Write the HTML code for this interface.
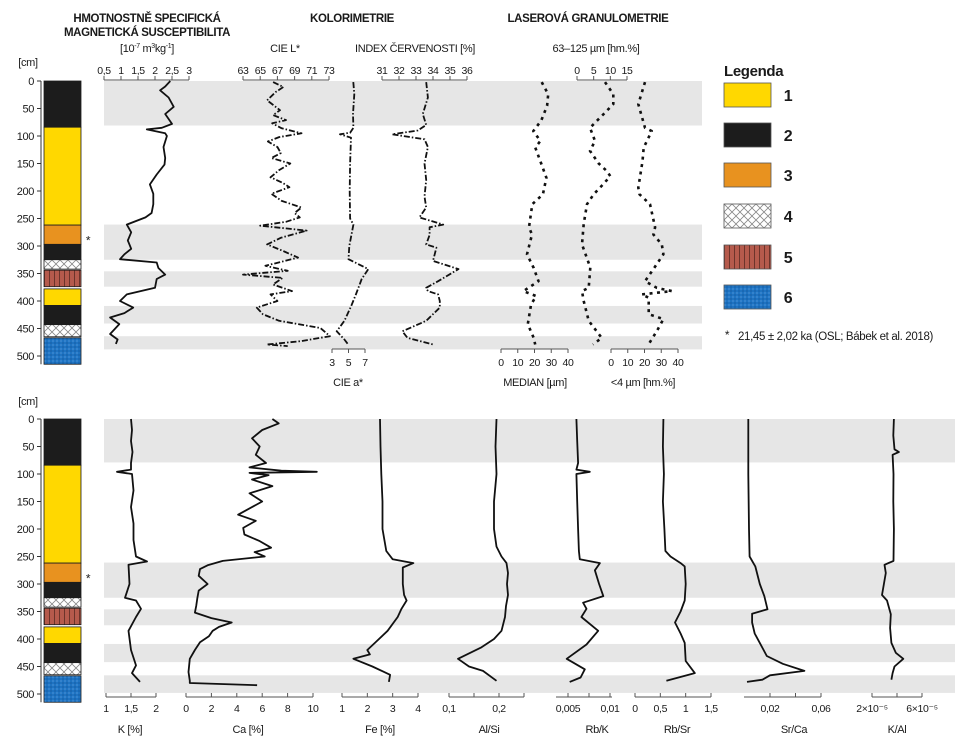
<!DOCTYPE html>
<html><head><meta charset="utf-8">
<style>
html,body{margin:0;padding:0;background:#fff;}
svg{display:block;font-family:"Liberation Sans",sans-serif;}
text{letter-spacing:-0.35px;}
</style></head>
<body>
<svg id="chart" width="967" height="745" viewBox="0 0 967 745" xmlns="http://www.w3.org/2000/svg">
<defs>
<pattern id="hatchX" width="8" height="8" patternUnits="userSpaceOnUse">
<rect width="8" height="8" fill="#fff"/>
<path d="M0,0 L8,8 M8,0 L0,8" stroke="#888" stroke-width="0.8"/>
</pattern>
<pattern id="hatchV" width="5" height="8" patternUnits="userSpaceOnUse">
<rect width="5" height="8" fill="#b55a4c"/>
<path d="M4.5,0 L4.5,8" stroke="#5a2a22" stroke-width="0.8"/>
</pattern>
<pattern id="dots" width="4" height="4" patternUnits="userSpaceOnUse">
<rect width="4" height="4" fill="#1e73c2"/>
<circle cx="1" cy="1" r="0.6" fill="#6aa8e6"/>
<circle cx="3" cy="3" r="0.6" fill="#0d4c8f"/>
</pattern>
</defs>
<g id="root"></g>
</svg>
<script>
// ---- lithology ----
const layerTops = [0, 84, 262, 297, 325, 344, 378, 408, 443, 467];
const layerBots = [84, 262, 297, 325, 342, 374, 408, 443, 465, 515];
const layerTypes = [2, 1, 3, 2, 4, 5, 1, 2, 4, 6];
const bandTopsTop = [0, 261, 346, 409, 464];
const bandBotsTop = [81, 325, 374, 441, 488];
const bandTopsBot = [0, 261, 346, 409, 466];
const bandBotsBot = [79, 325, 375, 442, 498];
const depthTicks = [0, 50, 100, 150, 200, 250, 300, 350, 400, 450, 500];

// ---- top panel series ----
const msDepth = [0,10,17,30,47,60,78,85,88,95,100,120,140,152,170,188,205,224,240,248,261,275,290,305,315,324,330,340,352,360,376,388,400,412,422,430,442,452,460,470,478];
const msVal   = [2.45,2.3,2.15,2.4,2.55,2.3,2.5,2.2,1.76,2.3,2.35,2.25,2.3,2.28,2.05,1.85,1.95,1.95,1.9,1.72,1.17,1.3,1.2,1.3,1.1,0.97,2.05,2.1,2.3,2.05,2.0,1.17,0.97,1.36,1.1,0.68,0.95,0.8,0.68,0.9,0.85];
const lDepth = [2,11,20,35,53,62,71,77,86,95,102,110,120,131,140,150,162,175,185,193,205,218,230,240,248,256,263,272,285,297,310,321,336,345,352,358,370,382,388,400,412,424,436,449,464,473,479,482];
const lVal   = [66.5,67.7,66.8,65.8,67.3,66.5,68.0,66.4,67.5,69.8,67.2,65.9,67.0,67.4,66.3,68.5,67.2,66.2,67.6,68.4,66.3,67.5,69.8,69.0,69.6,68.0,65.0,70.4,67.4,65.8,67.8,69.4,65.6,68.2,63.0,67.6,66.5,68.7,66.2,67.0,64.6,65.3,67.2,72.0,73.1,69.7,65.8,68.2];
const aDepth = [2,24,60,85,94,97,103,150,200,250,261,300,324,342,360,388,410,436,455,470,479];
const aVal   = [5.58,5.7,5.55,5.6,5.2,3.97,5.3,5.2,5.15,5.2,5.6,5.1,5.0,7.4,6.6,5.9,5.3,4.5,3.57,4.5,4.96];
const rDepth = [2,30,60,80,90,97,106,120,150,180,210,230,248,261,266,280,297,303,315,327,342,364,376,382,388,400,412,436,455,467,479];
const rVal   = [33.6,33.7,33.4,33.6,33.1,31.6,33.5,33.7,33.5,33.6,33.5,33.6,33.2,34.6,33.8,33.8,33.6,34.2,34.1,34.0,35.5,34.3,33.6,33.7,34.3,34.4,34.4,33.6,32.2,32.5,34.0];
const medDepth = [2,24,45,72,91,109,121,150,176,206,224,266,279,315,340,364,382,391,406,442,467,479];
const medVal   = [24.3,28.2,27.5,24.0,19.3,23.5,20.5,24.0,27.1,25.0,18.7,16.7,18.5,15.5,19.5,22.4,13.4,21.0,18.0,16.0,19.5,20.4];
const sandDepth = [2,24,42,60,85,109,127,150,164,173,190,206,224,260,297,339,376,382,400,436,467,479];
const sandVal   = [8.4,10.9,10.9,8.0,3.9,5.4,3.9,6.5,9.0,10.0,7.5,5.0,3.0,2.0,1.5,4.0,3.5,1.5,2.0,3.5,7.4,4.8];
const clayDepth = [2,42,85,91,121,146,194,206,224,266,279,297,315,339,364,376,382,388,394,424,433,455,479];
const clayVal   = [20.3,16.3,20.3,24.3,19.5,18.8,16.3,17.0,23.3,26.3,25.3,30.3,31.3,26.0,20.3,27.3,36.3,18.3,22.5,22.5,31.3,27.3,22.4];

// ---- bottom panel series ----
const kDepth = [0,20,40,60,80,92,96,100,130,160,190,220,250,259,265,300,325,330,345,360,385,420,448,462,478];
const kVal   = [1.5,1.52,1.5,1.53,1.5,1.5,1.22,1.52,1.55,1.5,1.55,1.55,1.6,1.82,1.45,1.47,1.38,1.6,1.7,1.6,1.45,1.5,1.6,1.52,1.68];
const caDepth = [0,8,20,35,50,65,80,88,94,96,98,102,110,122,135,150,165,174,185,198,210,222,234,242,250,258,266,273,285,300,312,325,340,352,362,370,378,385,395,406,420,436,460,476,480,484];
const caVal   = [6.8,7.3,6.0,5.2,5.8,5.5,6.3,5.0,7.5,10.3,5.0,6.5,5.2,6.8,5.0,6.0,4.8,4.1,5.5,4.5,4.6,5.8,6.7,5.4,6.2,2.9,1.7,1.1,1.0,1.7,1.0,0.9,0.8,0.7,2.0,3.6,2.6,2.1,1.8,1.1,0.7,0.3,0.2,0.3,0.3,5.6];
const feDepth = [0,50,100,150,200,240,255,262,270,300,320,330,345,360,385,407,420,428,436,450,465,478];
const feVal   = [2.5,2.52,2.55,2.6,2.6,2.75,3.0,3.82,3.4,3.4,3.45,3.55,3.35,3.2,2.8,2.3,2.0,2.1,1.45,2.2,2.9,2.85];
const alDepth = [0,50,100,150,200,232,250,262,280,300,320,340,360,385,400,415,436,450,458,476];
const alVal   = [0.195,0.193,0.195,0.19,0.19,0.195,0.205,0.215,0.218,0.216,0.218,0.214,0.212,0.205,0.19,0.165,0.118,0.14,0.168,0.195];
const rbkDepth = [0,40,80,92,96,100,150,200,240,255,262,275,300,322,334,345,360,385,410,436,455,470,478];
const rbkVal   = [0.0060,0.0061,0.0062,0.0060,0.0076,0.0060,0.0061,0.0062,0.0063,0.0064,0.0088,0.0082,0.0087,0.0092,0.0068,0.0072,0.0066,0.0086,0.0072,0.00485,0.0070,0.0065,0.0052];
const rbsDepth = [0,50,100,150,200,240,250,262,268,300,330,350,370,390,407,440,462,476];
const rbsVal   = [0.56,0.55,0.57,0.55,0.58,0.6,0.7,0.9,0.98,1.0,0.98,0.9,0.79,0.9,0.98,1.0,1.18,0.62];
const srcDepth = [0,100,200,250,268,300,322,346,354,370,390,407,431,445,458,466,474,478];
const srcVal   = [0.003,0.003,0.0035,0.004,0.0085,0.012,0.0155,0.018,0.006,0.006,0.008,0.012,0.0175,0.03,0.047,0.02,0.014,0.002];
const kalDepth = [0,30,55,60,65,100,150,200,258,265,280,300,320,330,355,380,407,425,436,450,462,474];
const kalVal   = [3.75,3.7,3.8,4.15,3.65,3.72,3.7,3.75,3.72,3.0,3.1,2.95,2.8,3.2,3.5,3.45,3.55,3.9,4.5,3.8,3.65,3.55];

// ---- tick arrays ----
const msTicks = [0.5,1,1.5,2,2.5,3];
const msLabels = ["0,5","1","1,5","2","2,5","3"];
const lTicks = [63,65,67,69,71,73];
const rTicks = [31,32,33,34,35,36];
const aTicks = [3,5,7];
const sandTicks = [0,5,10,15];
const medTicks = [0,10,20,30,40];
const clayTicks = [0,10,20,30,40];
const kTicks = [1,1.5,2]; const kLabels = ["1","1,5","2"];
const caTicks = [0,2,4,6,8,10];
const feTicks = [1,2,3,4];
const alTicks = [0.1,0.15,0.2,0.25]; const alLabels = ["0,1","","0,2",""];
const rbkTicks = [0.005,0.0075,0.01]; const rbkLabels = ["0,005","","0,01"];
const rbsTicks = [0,0.5,1,1.5]; const rbsLabels = ["0","0,5","1","1,5"];
const srcTicks = [0.02,0.04,0.06]; const srcLabels = ["0,02","","0,06"];
const kalTicks = [2,4,6]; const kalLabels = ["2×10⁻⁵","","6×10⁻⁵"];

const NS = "http://www.w3.org/2000/svg";
const root = document.getElementById("root");
function mk(tag, attrs, parent){const e=document.createElementNS(NS,tag);for(const k in attrs)e.setAttribute(k,attrs[k]);(parent||root).appendChild(e);return e;}
function txt(x,y,s,size,anchor,weight,name,parent){const t=mk("text",{x:x,y:y,"font-size":size,"text-anchor":anchor||"middle","font-weight":weight||"normal",fill:"#1a1a1a"},parent);t.textContent=s;


return t;}
function lin(v0,x0,v1,x1){return v=>x0+(v-v0)*(x1-x0)/(v1-v0);}
const yTop = d => 81 + d*0.55;
const yBot = d => 419 + d*0.55;

function panel(yf, bandT, bandB, bandX2, cmY, suffix){
  const g = mk("g",{});
  
  
  for(let i=0;i<bandT.length;i++){
    const r = mk("rect",{x:104,y:yf(bandT[i]),width:bandX2-104,height:yf(bandB[i])-yf(bandT[i]),fill:"#e6e6e6"},g);
    
    
  }
  const fills = {1:"#ffd800",2:"#1c1c1c",3:"#e8921f",4:"url(#hatchX)",5:"url(#hatchV)",6:"url(#dots)"};
  for(let i=0;i<layerTops.length;i++){
    const r = mk("rect",{x:44,y:yf(layerTops[i]),width:37,height:yf(layerBots[i])-yf(layerTops[i]),fill:fills[layerTypes[i]],stroke:"#1c1c1c","stroke-width":0.8},g);
    
    
  }
  const ax = mk("line",{x1:41,x2:41,y1:yf(0),y2:yf(515),stroke:"#333","stroke-width":1},g);
  
  
  depthTicks.forEach(d=>{
    mk("line",{x1:37,x2:41,y1:yf(d),y2:yf(d),stroke:"#333"},g);
    txt(34,yf(d)+4,String(d),11,"end","normal","depth-tick-label",g);
  });
  txt(28,cmY,"[cm]",11,"middle","normal","depth-unit-label",g);
  txt(88,yf(290)+4,"*",12,"middle","normal","osl-date-marker",g);
  return g;
}

function axis(scale, ticks, labels, x1, x2, y, up, labelY, name){
  const g = mk("g",{});
  
  
  mk("line",{x1:x1,x2:x2,y1:y,y2:y,stroke:"#555","stroke-width":1},g);
  ticks.forEach((t,i)=>{
    const x = scale(t);
    mk("line",{x1:x,x2:x,y1:y,y2:y+(up?-4:4),stroke:"#555"},g);
    const lb = labels ? labels[i] : String(t);
    if(lb) txt(x,labelY,lb,10.5,"middle","normal","tick-label",g);
  });
}

function series(depths, vals, scale, yf, style, name){
  let d = "";
  for(let i=0;i<depths.length;i++){ d += (i?"L":"M") + scale(vals[i]).toFixed(1) + "," + yf(depths[i]).toFixed(1); }
  const attrs = {d:d,fill:"none",stroke:"#111","stroke-width":1.8,"stroke-linejoin":"round"};
  if(style==="dashdot"){attrs["stroke-dasharray"]="6,2,1.5,2";}
  if(style==="dot"){attrs["stroke-dasharray"]="3,4.5";attrs["stroke-width"]=2.6;}
  const p = mk("path",attrs);
  
  
}

// ===== Top panel =====
panel(yTop, bandTopsTop, bandBotsTop, 702, 66, "top");
txt(147,22,"HMOTNOSTNĚ SPECIFICKÁ",11.5,"middle","bold","ms-title-line1");
txt(147,36,"MAGNETICKÁ SUSCEPTIBILITA",11.5,"middle","bold","ms-title-line2");
const u = txt(147,52,"[10",11,"middle","normal","ms-unit");
u.innerHTML = "[10<tspan font-size='7' dy='-4'>-7</tspan><tspan dy='4'> m</tspan><tspan font-size='7' dy='-4'>3</tspan><tspan dy='4'>kg</tspan><tspan font-size='7' dy='-4'>-1</tspan><tspan dy='4'>]</tspan>";
txt(352,22,"KOLORIMETRIE",11.5,"middle","bold","colorimetry-title");
txt(285,52,"CIE L*",11,"middle","normal","cie-l-title");
txt(415,52,"INDEX ČERVENOSTI [%]",11,"middle","normal","redness-index-title");
txt(588,22,"LASEROVÁ GRANULOMETRIE",11.5,"middle","bold","granulometry-title");
txt(596,52,"63–125 µm [hm.%]",11,"middle","normal","sand-fraction-title");

const sMS = lin(0.5,104,3,189);
const sL = lin(63,243,73,329);
const sR = lin(31,382,36,467);
const sA = lin(3,332,7,365);
const sSand = lin(0,577,15,627);
const sMed = lin(0,501,40,568);
const sClay = lin(0,611,40,678);

axis(sMS, msTicks, msLabels, 104, 189, 80, true, 74, "ms-axis");
axis(sL, lTicks, null, 243, 329, 80, true, 74, "cie-l-axis");
axis(sR, rTicks, null, 382, 467, 80, true, 74, "redness-axis");
axis(sSand, sandTicks, null, 577, 627, 80, true, 74, "sand-axis");
axis(sA, aTicks, null, 332, 365, 349, false, 366, "cie-a-axis");
axis(sMed, medTicks, null, 501, 568, 349, false, 366, "median-axis");
axis(sClay, clayTicks, null, 611, 678, 349, false, 366, "clay-axis");
txt(348,386,"CIE a*",11,"middle","normal","cie-a-title");
txt(535,386,"MEDIAN [µm]",11,"middle","normal","median-title");
txt(643,386,"<4 µm [hm.%]",11,"middle","normal","clay-title");

series(msDepth, msVal, sMS, yTop, "solid", "ms-line");
series(lDepth, lVal, sL, yTop, "dashdot", "cie-l-line");
series(aDepth, aVal, sA, yTop, "dashdot", "cie-a-line");
series(rDepth, rVal, sR, yTop, "dashdot", "redness-line");
series(medDepth, medVal, sMed, yTop, "dot", "median-line");
series(sandDepth, sandVal, sSand, yTop, "dot", "sand-line");
series(clayDepth, clayVal, sClay, yTop, "dot", "clay-line");

// ===== Legend =====
txt(724,76,"Legenda",15,"start","bold","legend-title");
const legFills = ["#ffd800","#1c1c1c","#e8921f","url(#hatchX)","url(#hatchV)","url(#dots)"];
const legY = [83,123,163,204,245,285];
for(let i=0;i<6;i++){
  const r = mk("rect",{x:724,y:legY[i],width:47,height:24,fill:legFills[i],stroke:"#555","stroke-width":0.8});
  
  
  txt(788,legY[i]+18,String(i+1),16,"middle","bold","legend-number-" + (i+1));
}
txt(727,339,"*",12,"middle","normal","legend-osl-marker");
txt(738,340,"21,45 ± 2,02 ka (OSL; Bábek et al. 2018)",11.5,"start","normal","legend-osl-note");

// ===== Bottom panel =====
panel(yBot, bandTopsBot, bandBotsBot, 955, 405, "bottom");
const sK = lin(1,106,2,156);
const sCa = lin(0,186,10,313);
const sFe = lin(1,342,4,418);
const sAl = lin(0.1,449,0.2,499);
const sRbK = lin(0.005,568,0.01,610);
const sRbS = lin(0,635,1.5,711);
const sSrC = lin(0.02,770,0.06,821);
const sKAl = lin(2,872,6,922);
const by = 697, bl = 712, bt = 733;
axis(sK, kTicks, kLabels, 106, 156, by, true, bl, "k-axis");
axis(sCa, caTicks, null, 186, 313, by, true, bl, "ca-axis");
axis(sFe, feTicks, null, 342, 418, by, true, bl, "fe-axis");
axis(sAl, alTicks, alLabels, 449, 524, by, true, bl, "alsi-axis");
axis(sRbK, rbkTicks, rbkLabels, 556, 612, by, true, bl, "rbk-axis");
axis(sRbS, rbsTicks, rbsLabels, 635, 711, by, true, bl, "rbsr-axis");
axis(sSrC, srcTicks, srcLabels, 744, 821, by, true, bl, "srca-axis");
axis(sKAl, kalTicks, kalLabels, 872, 922, by, true, bl, "kal-axis");
txt(130,bt,"K [%]",11,"middle","normal","k-title");
txt(248,bt,"Ca [%]",11,"middle","normal","ca-title");
txt(380,bt,"Fe [%]",11,"middle","normal","fe-title");
txt(489,bt,"Al/Si",11,"middle","normal","alsi-title");
txt(597,bt,"Rb/K",11,"middle","normal","rbk-title");
txt(677,bt,"Rb/Sr",11,"middle","normal","rbsr-title");
txt(794,bt,"Sr/Ca",11,"middle","normal","srca-title");
txt(897,bt,"K/Al",11,"middle","normal","kal-title");

series(kDepth, kVal, sK, yBot, "solid", "k-line");
series(caDepth, caVal, sCa, yBot, "solid", "ca-line");
series(feDepth, feVal, sFe, yBot, "solid", "fe-line");
series(alDepth, alVal, sAl, yBot, "solid", "alsi-line");
series(rbkDepth, rbkVal, sRbK, yBot, "solid", "rbk-line");
series(rbsDepth, rbsVal, sRbS, yBot, "solid", "rbsr-line");
series(srcDepth, srcVal, sSrC, yBot, "solid", "srca-line");
series(kalDepth, kalVal, sKAl, yBot, "solid", "kal-line");
</script>
</body></html>
